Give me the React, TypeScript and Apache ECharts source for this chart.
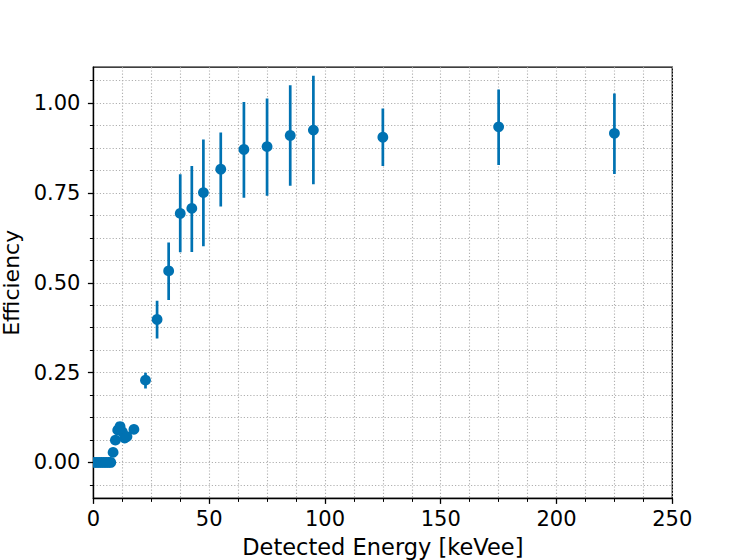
import React, { useEffect, useRef } from "react";
import * as echarts from "echarts";

// Detected energy bin centres [keVee]
const energy = [
  0.5, 1.5, 2.5, 3.5, 4.5, 5.5, 6.5, 7.5, 8.5, 9.5, 10.5, 11.5, 12.5, 13.5, 14.5, 17.5,
  22.5, 27.5, 32.5, 37.5, 42.5, 47.5, 55, 65, 75, 85, 95, 125, 175, 225,
];
// Efficiency values
const efficiency = [
  0, 0, 0, 0, 0, 0, 0, 0, 0.028, 0.062, 0.09, 0.1, 0.085, 0.068, 0.072, 0.092,
  0.229, 0.398, 0.533, 0.693, 0.707, 0.751, 0.816, 0.871, 0.879, 0.91, 0.925, 0.905, 0.934, 0.916,
];
// Lower ends of the error bars
const errorLow = [
  0, 0, 0, 0, 0, 0, 0, 0, 0.02, 0.052, 0.08, 0.09, 0.075, 0.058, 0.062, 0.082,
  0.206, 0.345, 0.452, 0.585, 0.586, 0.602, 0.712, 0.737, 0.742, 0.77, 0.774, 0.825, 0.828, 0.803,
];
// Upper ends of the error bars
const errorHigh = [
  0, 0, 0, 0, 0, 0, 0, 0, 0.036, 0.072, 0.1, 0.11, 0.095, 0.078, 0.082, 0.102,
  0.25, 0.45, 0.612, 0.802, 0.825, 0.899, 0.918, 1.003, 1.013, 1.05, 1.076, 0.985, 1.038, 1.027,
];

// Axis ticks
const yMajorTicks = [0, 0.25, 0.5, 0.75, 1.0];
const yAllTicks = [
  -0.0625, 0, 0.0625, 0.125, 0.1875, 0.25, 0.3125, 0.375, 0.4375, 0.5, 0.5625, 0.625, 0.6875,
  0.75, 0.8125, 0.875, 0.9375, 1.0, 1.0625,
];

const BLUE = "#0072B2";
const FONT = "DejaVu Sans";
const gridLine = { color: "#b0b0b0", width: 1.1, type: [1.2, 2] as number[] };

export default function App() {
  const ref = useRef<HTMLDivElement>(null);

  useEffect(() => {
    document.body.style.margin = "0";
    if (!ref.current) return;
    const chart = echarts.init(ref.current, undefined, { renderer: "svg" });

    const barData = energy.map((e, i) => [e, errorLow[i], errorHigh[i]]);
    const pointData = energy.map((e, i) => [e, efficiency[i]]);

    chart.setOption({
      animation: false,
      backgroundColor: "#ffffff",
      textStyle: { fontFamily: FONT },
      grid: {
        left: 93.4,
        top: 67.2,
        width: 578.9,
        height: 431.2,
        containLabel: false,
        outerBoundsMode: "none",
        show: true,
        borderColor: "#000",
        borderWidth: 1.3,
        backgroundColor: "transparent",
      },
      xAxis: {
        type: "value",
        min: 0,
        max: 250,
        interval: 50,
        name: "Detected Energy [keVee]",
        nameLocation: "middle",
        nameGap: 37,
        nameTextStyle: { fontSize: 22.5, color: "#000", fontFamily: FONT },
        axisLine: { show: true, onZero: false, lineStyle: { color: "#000", width: 1.3 } },
        axisTick: { show: true, length: 5.5, lineStyle: { color: "#000", width: 1.3 } },
        minorTick: { show: true, splitNumber: 4, length: 3.5, lineStyle: { color: "#000", width: 1 } },
        axisLabel: { fontSize: 21, color: "#000", margin: 10, fontFamily: FONT },
        splitLine: { show: true, lineStyle: gridLine },
        minorSplitLine: { show: true, lineStyle: gridLine },
      },
      yAxis: [
        {
          type: "value",
          min: -0.1,
          max: 1.1,
          position: "left",
          axisLine: { show: true, onZero: false, lineStyle: { color: "#000", width: 1.3 } },
          axisTick: { show: true, length: 3.5, customValues: yAllTicks, lineStyle: { color: "#000", width: 1 } },
          axisLabel: { show: false, customValues: yAllTicks },
          splitLine: { show: true, lineStyle: gridLine },
        },
        {
          type: "value",
          min: -0.1,
          max: 1.1,
          position: "left",
          offset: 0,
          name: "Efficiency",
          nameLocation: "middle",
          nameGap: 67,
          nameTextStyle: { fontSize: 22, color: "#000", fontFamily: FONT },
          axisLine: { show: false, onZero: false },
          axisTick: { show: true, length: 5.5, customValues: yMajorTicks, lineStyle: { color: "#000", width: 1.3 } },
          axisLabel: {
            show: true,
            customValues: yMajorTicks,
            fontSize: 21,
            color: "#000",
            margin: 13,
            fontFamily: FONT,
            formatter: (v: number) => v.toFixed(2),
          },
          splitLine: { show: false },
        },
      ],
      series: [
        {
          type: "custom",
          name: "error",
          xAxisIndex: 0,
          yAxisIndex: 0,
          clip: true,
          z: 3,
          data: barData,
          encode: { x: 0, y: [1, 2] },
          renderItem: (params: any, api: any) => {
            const x = api.value(0);
            const p1 = api.coord([x, api.value(1)]);
            const p2 = api.coord([x, api.value(2)]);
            return {
              type: "line",
              shape: { x1: p1[0], y1: p1[1], x2: p2[0], y2: p2[1] },
              style: { stroke: BLUE, lineWidth: 2.7 },
            };
          },
        },
        {
          type: "custom",
          name: "Efficiency",
          xAxisIndex: 0,
          yAxisIndex: 0,
          clip: true,
          z: 4,
          data: pointData,
          encode: { x: 0, y: 1 },
          renderItem: (params: any, api: any) => {
            const p = api.coord([api.value(0), api.value(1)]);
            return {
              type: "circle",
              shape: { cx: p[0], cy: p[1], r: 5.4 },
              style: { fill: BLUE },
            };
          },
        },
      ],
    });

    return () => chart.dispose();
  }, []);

  return <div ref={ref} style={{ width: 747, height: 560 }} />;
}
